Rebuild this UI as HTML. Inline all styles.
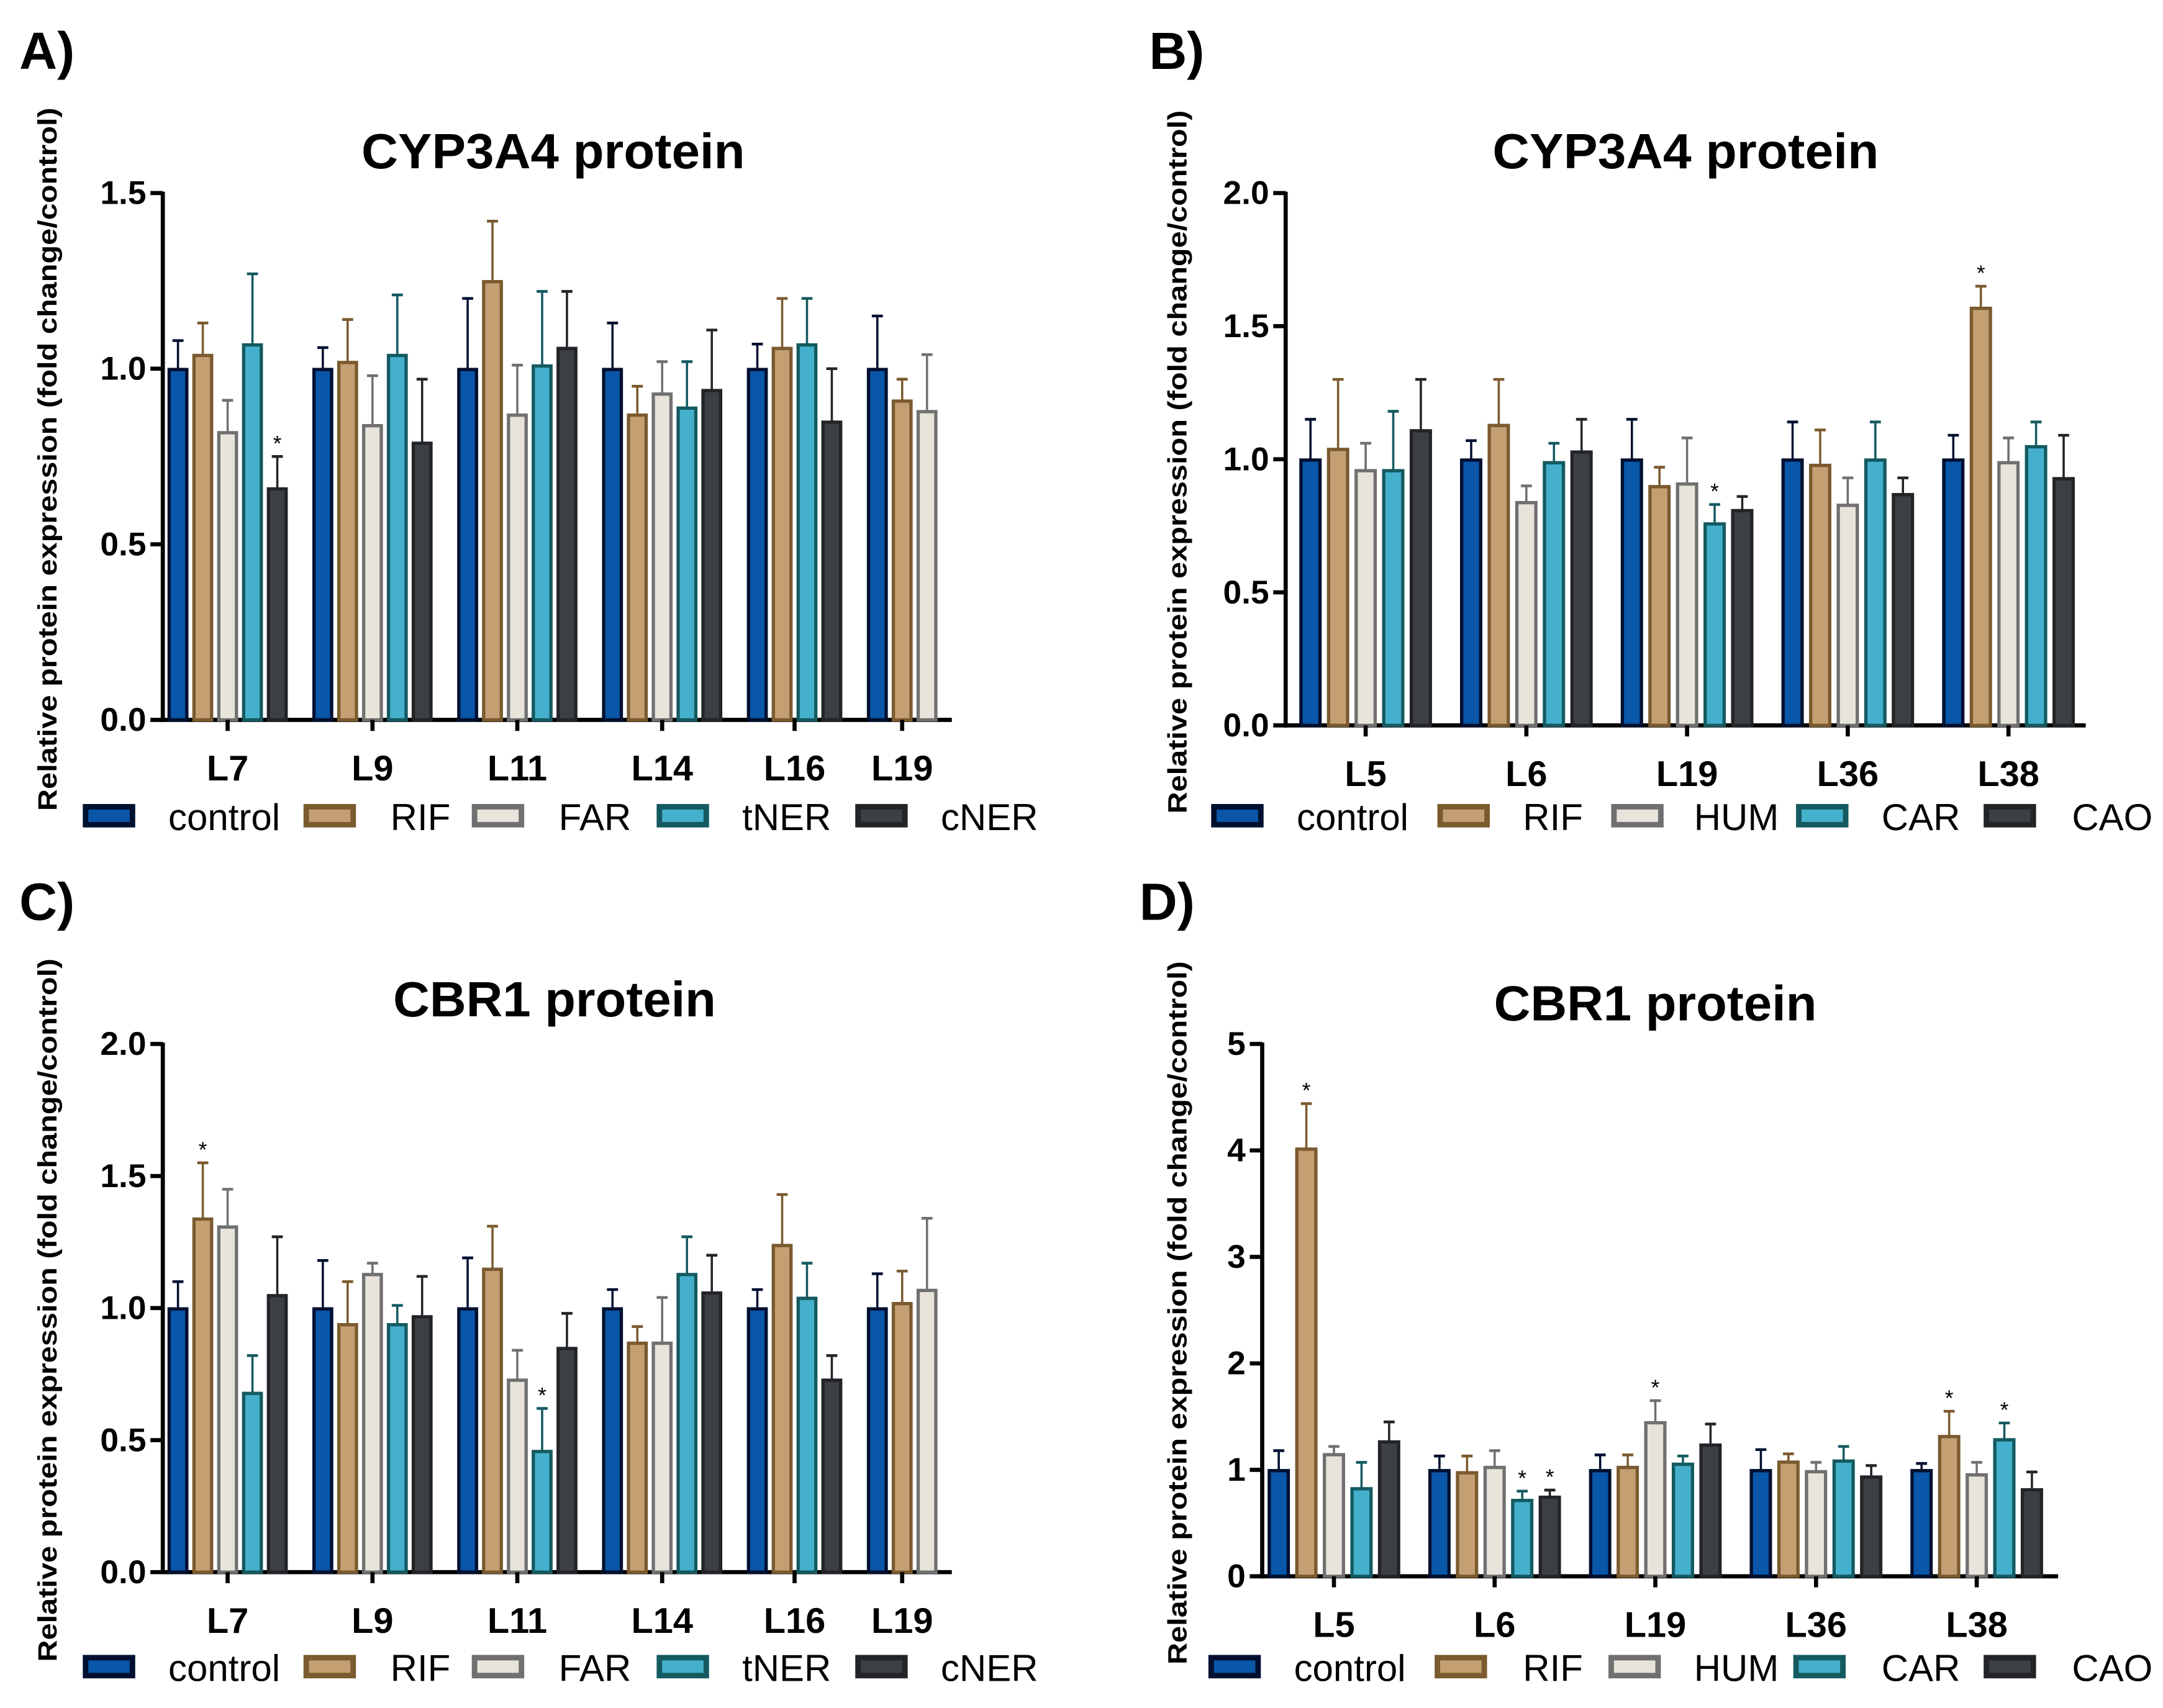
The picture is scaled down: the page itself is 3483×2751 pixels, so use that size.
<!DOCTYPE html>
<html><head><meta charset="utf-8"><style>
html,body{margin:0;padding:0;background:#fff;}
svg{display:block;}
text{font-family:"Liberation Sans",sans-serif;fill:#000;}
.yt{font-family:"Liberation Sans",sans-serif;font-weight:bold;font-size:19px;}
</style></head><body>
<svg id="fig" width="3483" height="2751" viewBox="0 0 1568 1238.5" xmlns="http://www.w3.org/2000/svg"></svg>
<script>
const NS="http://www.w3.org/2000/svg";
const svg=document.getElementById('fig');

const seriesAC=["control","RIF","FAR","tNER","cNER"];
const seriesBD=["control","RIF","HUM","CAR","CAO"];
const catsAC=["L7","L9","L11","L14","L16","L19"];
const catsBD=["L5","L6","L19","L36","L38"];

// Panel A values (null = not measured)
const aMean=[[1.0,1.04,0.82,1.07,0.66],[1.0,1.02,0.84,1.04,0.79],[1.0,1.25,0.87,1.01,1.06],[1.0,0.87,0.93,0.89,0.94],[1.0,1.06,null,1.07,0.85],[1.0,0.91,0.88,null,null]];
const aErr =[[1.08,1.13,0.91,1.27,0.75],[1.06,1.14,0.98,1.21,0.97],[1.2,1.42,1.01,1.22,1.22],[1.13,0.95,1.02,1.02,1.11],[1.07,1.2,null,1.2,1.0],[1.15,0.97,1.04,null,null]];
const aStar=[[0,0,0,0,1],[0,0,0,0,0],[0,0,0,0,0],[0,0,0,0,0],[0,0,0,0,0],[0,0,0,0,0]];
const aTicks=[0.0,0.5,1.0,1.5];
// Panel B
const bMean=[[1.0,1.04,0.96,0.96,1.11],[1.0,1.13,0.84,0.99,1.03],[1.0,0.9,0.91,0.76,0.81],[1.0,0.98,0.83,1.0,0.87],[1.0,1.57,0.99,1.05,0.93]];
const bErr =[[1.15,1.3,1.06,1.18,1.3],[1.07,1.3,0.9,1.06,1.15],[1.15,0.97,1.08,0.83,0.86],[1.14,1.11,0.93,1.14,0.93],[1.09,1.65,1.08,1.14,1.09]];
const bStar=[[0,0,0,0,0],[0,0,0,0,0],[0,0,0,1,0],[0,0,0,0,0],[0,1,0,0,0]];
const bTicks=[0.0,0.5,1.0,1.5,2.0];
// Panel C
const cMean=[[1.0,1.34,1.31,0.68,1.05],[1.0,0.94,1.13,0.94,0.97],[1.0,1.15,0.73,0.46,0.85],[1.0,0.87,0.87,1.13,1.06],[1.0,1.24,null,1.04,0.73],[1.0,1.02,1.07,null,null]];
const cErr =[[1.1,1.55,1.45,0.82,1.27],[1.18,1.1,1.17,1.01,1.12],[1.19,1.31,0.84,0.62,0.98],[1.07,0.93,1.04,1.27,1.2],[1.07,1.43,null,1.17,0.82],[1.13,1.14,1.34,null,null]];
const cStar=[[0,1,0,0,0],[0,0,0,0,0],[0,0,0,1,0],[0,0,0,0,0],[0,0,0,0,0],[0,0,0,0,0]];
const cTicks=[0.0,0.5,1.0,1.5,2.0];
// Panel D
const dMean=[[1.0,4.02,1.15,0.83,1.27],[1.0,0.98,1.03,0.72,0.75],[1.0,1.03,1.45,1.06,1.24],[1.0,1.08,0.99,1.09,0.94],[1.0,1.32,0.96,1.29,0.82]];
const dErr =[[1.18,4.44,1.22,1.07,1.45],[1.13,1.13,1.18,0.8,0.81],[1.14,1.14,1.65,1.13,1.43],[1.19,1.15,1.07,1.22,1.04],[1.06,1.55,1.07,1.44,0.98]];
const dStar=[[0,1,0,0,0],[0,0,0,1,1],[0,0,1,0,0],[0,0,0,0,0],[0,1,0,1,0]];
const dTicks=[0,1,2,3,4,5];

const fills=["#0a56a8","#c49f72","#e8e4dc","#45b0cc","#3c4045"];
const strokes=["#001030","#7a5a2e","#707070","#145a60","#222428"];

function el(tag,attrs,parent){const e=document.createElementNS(NS,tag);for(const k in attrs)e.setAttribute(k,attrs[k]);(parent||svg).appendChild(e);return e;}
function txt(s,attrs,parent){const t=el('text',attrs,parent);t.textContent=s;return t;}

function panel(p){
  const g=el('g',{});
  
  
  const yMax=p.ticks[p.ticks.length-1];
  const y=v=>p.y0-(v/yMax)*(p.y0-p.yTop);
  const lab=txt(p.letter,{x:p.lx,y:p.ly,'font-size':38,'font-weight':'bold'},g);
  
  
  const ti=txt(p.title,{x:p.tx,y:p.ty,'font-size':36,'font-weight':'bold','text-anchor':'middle',textLength:p.tl,lengthAdjust:'spacingAndGlyphs'},g);
  
  
  const yt=txt("Relative protein expression (fold change/control)",{class:'yt','text-anchor':'middle',textLength:510,lengthAdjust:'spacingAndGlyphs',transform:`translate(${p.ytx},${p.ytc}) rotate(-90)`},g);
  
  
  const ya=el('line',{x1:p.ax,y1:p.yTop-1,x2:p.ax,y2:p.y0+1.5,stroke:'#000','stroke-width':3},g);
  
  
  const xa=el('line',{x1:p.ax-1.5,y1:p.y0,x2:p.axEnd,y2:p.y0,stroke:'#000','stroke-width':3},g);
  
  
  p.ticks.forEach(tv=>{
    el('line',{x1:p.ax-9,y1:y(tv),x2:p.ax,y2:y(tv),stroke:'#000','stroke-width':3},g);
    const t=txt(p.fmt(tv),{x:p.ax-12,y:y(tv)+8,'font-size':24,'font-weight':'bold','text-anchor':'end'},g);
    
    
  });
  let cx=p.bar0;
  p.cats.forEach((c,i)=>{
    const centers=[];
    p.mean[i].forEach((v,s)=>{
      if(v===null)return;
      centers.push(cx);
      const col=strokes[s];
      const e=p.err[i][s];
      el('line',{x1:cx,y1:y(e),x2:cx,y2:y(v),stroke:col,'stroke-width':1.6},g);
      el('line',{x1:cx-4,y1:y(e),x2:cx+4,y2:y(e),stroke:col,'stroke-width':2},g);
      const r=el('rect',{x:cx-p.bw/2+0.6,y:y(v)+0.6,width:p.bw-1.2,height:y(0)-y(v)-0.6,fill:fills[s],stroke:col,'stroke-width':2.4},g);
      
      
      if(p.star[i][s]){
        const st=txt('*',{x:cx,y:y(e)-4,'font-size':16,'text-anchor':'middle'},g);
        
        
      }
      cx+=p.step;
    });
    const mid=(centers[0]+centers[centers.length-1])/2;
    el('line',{x1:mid,y1:p.y0,x2:mid,y2:p.y0+8,stroke:'#000','stroke-width':3},g);
    const cl=txt(c,{x:mid,y:p.y0+44,'font-size':26,'font-weight':'bold','text-anchor':'middle'},g);
    
    
    cx+=p.gap;
  });
  p.series.forEach((s,k)=>{
    const lg=el('g',{},g);
    
    
    el('rect',{x:p.legSw[k]+2,y:p.legY-7,width:34,height:13,fill:fills[k],stroke:strokes[k],'stroke-width':4},lg);
    txt(s,{x:p.legTx[k],y:p.legY+10,'font-size':27},lg);
  });
}
const f1=v=>v.toFixed(1), f0=v=>String(v);
panel({name:'panel-a',letter:'A)',lx:14,ly:50,title:'CYP3A4 protein',tx:401,ty:122,tl:278,ytx:41,ytc:333,
  ax:118,axEnd:690,y0:522,yTop:140,ticks:aTicks,fmt:f1,cats:catsAC,series:seriesAC,mean:aMean,err:aErr,star:aStar,
  bar0:129,step:18,bw:14,gap:15,legY:592,legSw:[60,220,342,476,620],legTx:[122,283,405,538,682]});
panel({name:'panel-b',letter:'B)',lx:833,ly:50,title:'CYP3A4 protein',tx:1222,ty:122,tl:280,ytx:860,ytc:335,
  ax:932,axEnd:1512,y0:526,yTop:140,ticks:bTicks,fmt:f1,cats:catsBD,series:seriesBD,mean:bMean,err:bErr,star:bStar,
  bar0:950,step:20,bw:15,gap:16.5,legY:592,legSw:[878,1042,1168,1302,1438],legTx:[940,1104,1228,1364,1502]});
panel({name:'panel-c',letter:'C)',lx:14,ly:667,title:'CBR1 protein',tx:402,ty:737,tl:234,ytx:41,ytc:950,
  ax:118,axEnd:690,y0:1140,yTop:757,ticks:cTicks,fmt:f1,cats:catsAC,series:seriesAC,mean:cMean,err:cErr,star:cStar,
  bar0:129,step:18,bw:14,gap:15,legY:1209,legSw:[60,220,342,476,620],legTx:[122,283,405,538,682]});
panel({name:'panel-d',letter:'D)',lx:826,ly:667,title:'CBR1 protein',tx:1200,ty:740,tl:234,ytx:860,ytc:952,
  ax:915,axEnd:1492,y0:1143,yTop:757,ticks:dTicks,fmt:f0,cats:catsBD,series:seriesBD,mean:dMean,err:dErr,star:dStar,
  bar0:927,step:20,bw:15,gap:16.5,legY:1209,legSw:[876,1040,1166,1300,1438],legTx:[938,1104,1228,1364,1502]});
</script>
</body></html>
